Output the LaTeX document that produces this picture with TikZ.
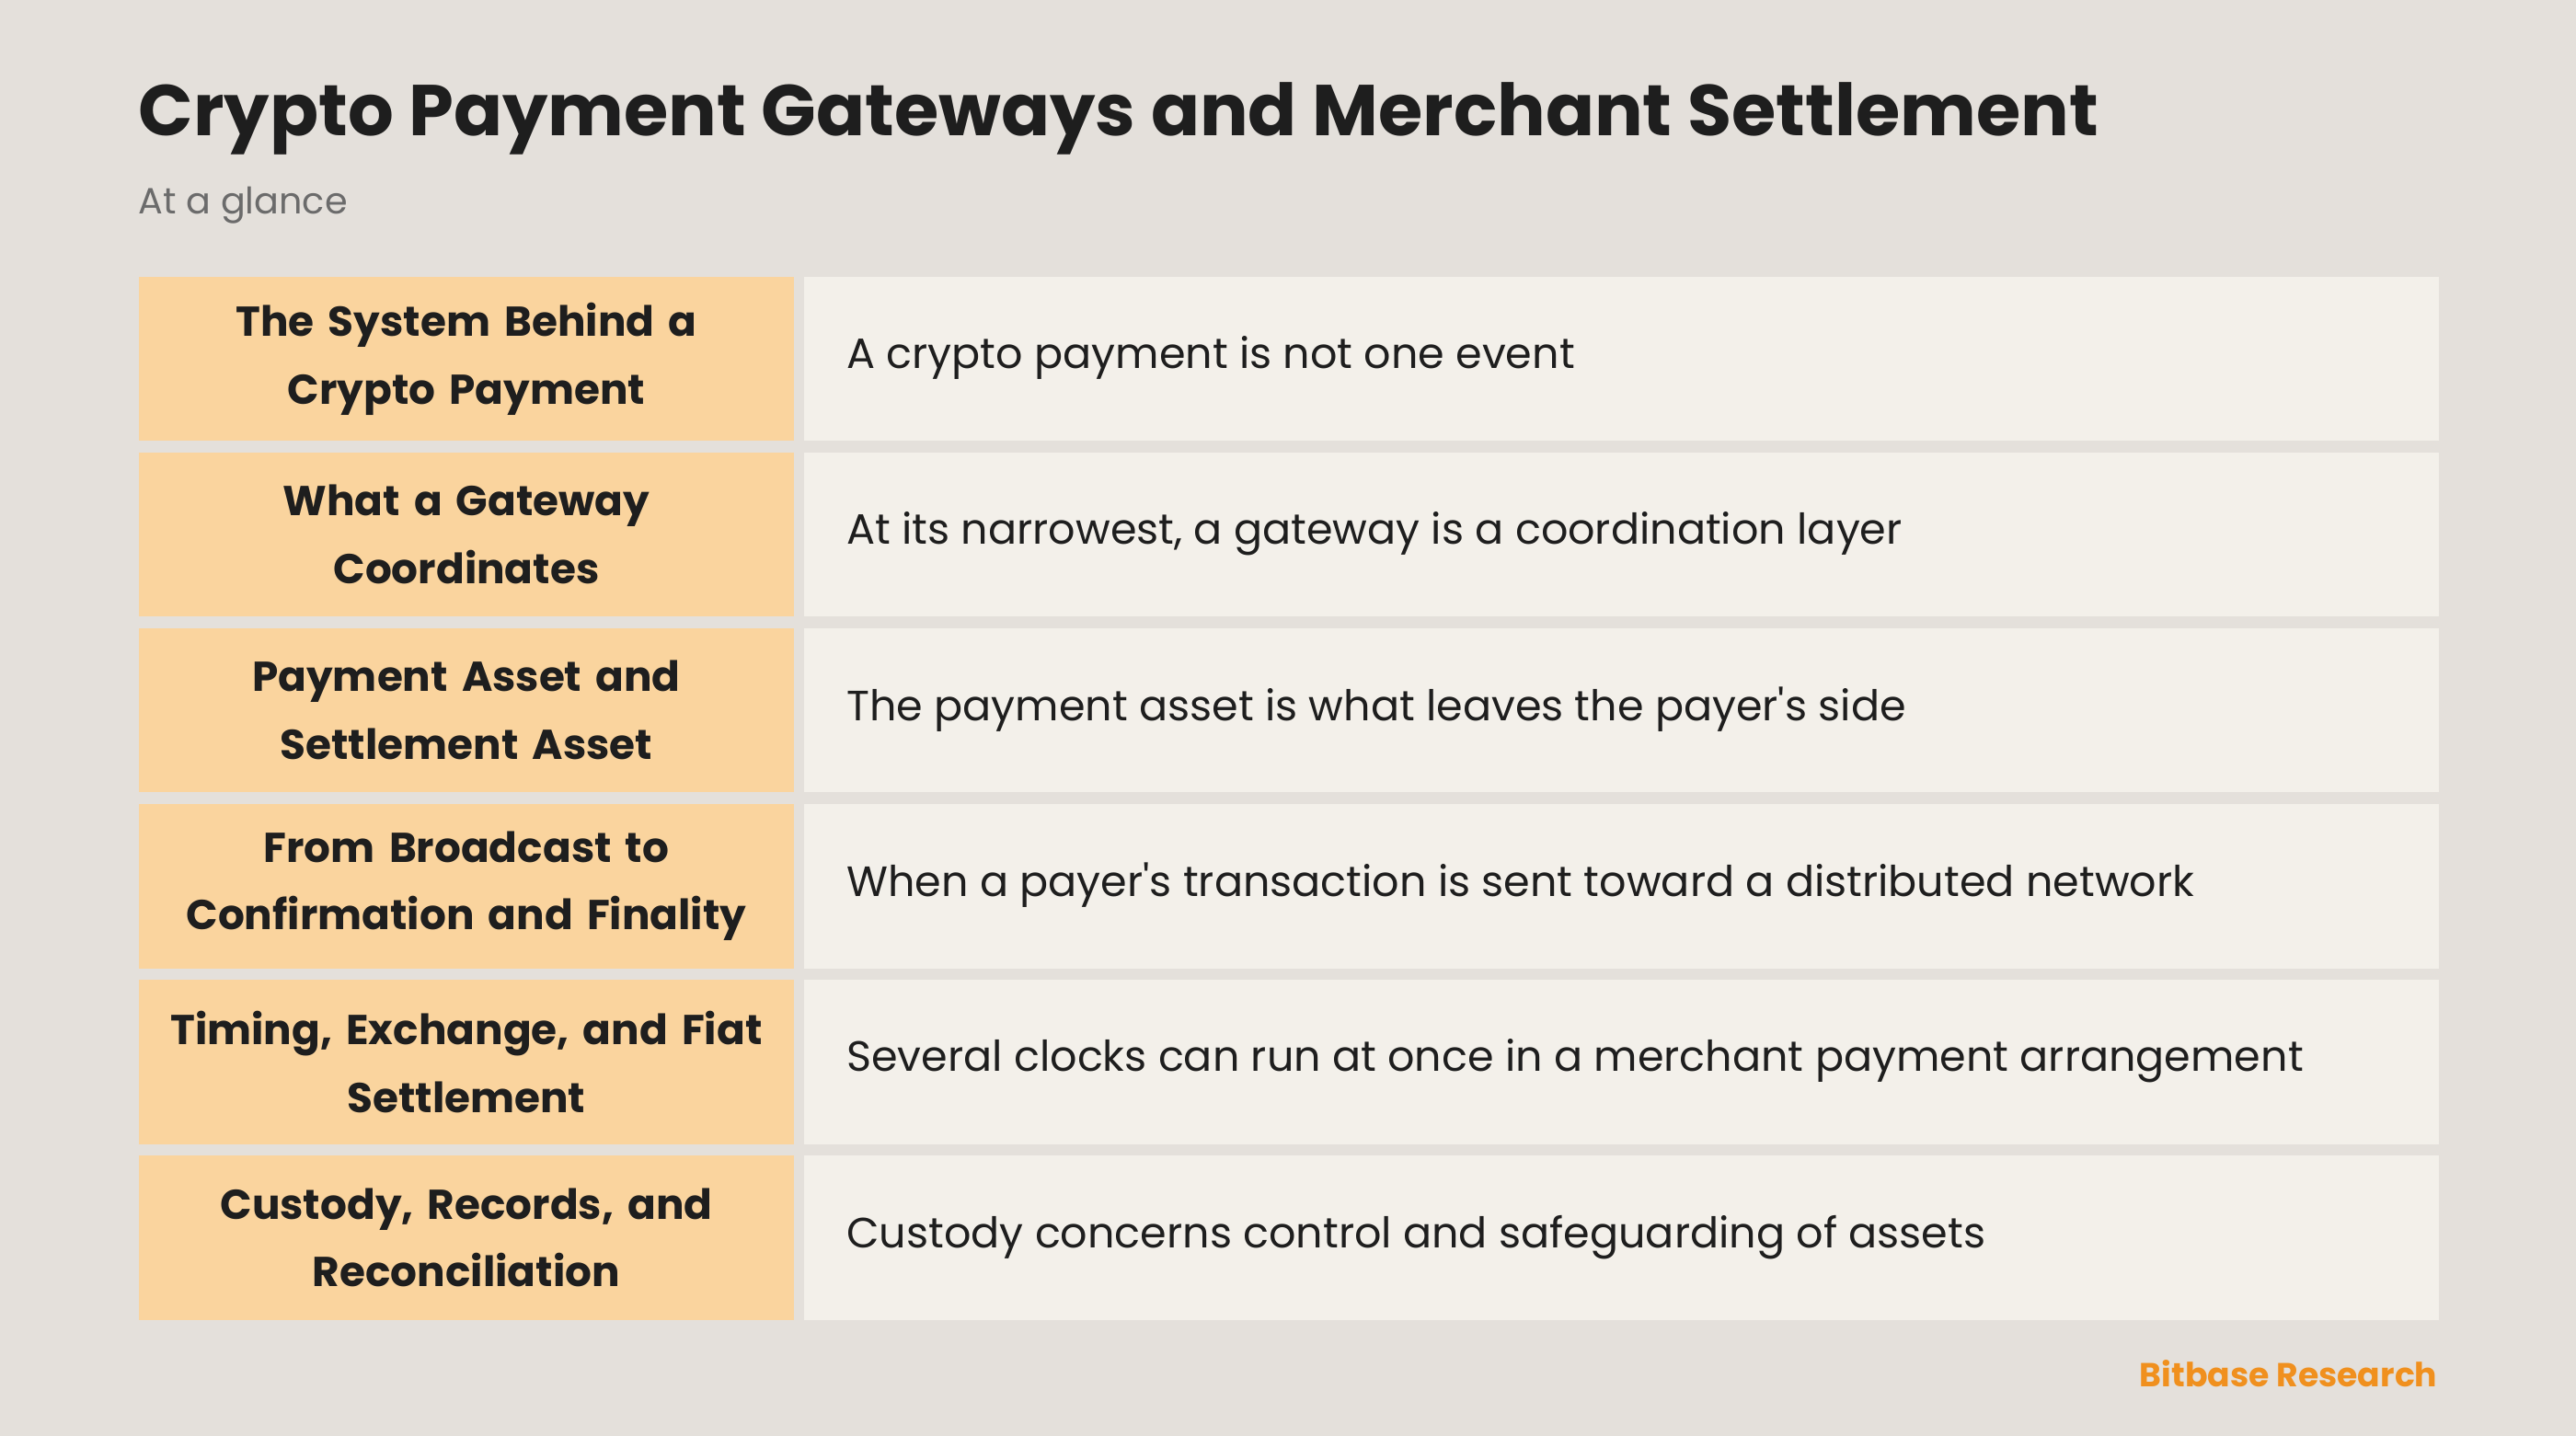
\documentclass[tikz,border=0pt]{standalone}
\usepackage{fontspec}
\setmainfont{Poppins}
\begin{document}
\begin{tikzpicture}[x=0.017857cm,y=-0.017857cm,
  lbox/.style={fill=lft,draw=none,minimum width=399\ux,minimum height=100\ux,inner sep=0pt,anchor=north west,align=center,text width=380\ux,font=\fontsize{12.9}{21}\selectfont\bfseries,text=ink},
  rbox/.style={fill=rgt,draw=none,minimum width=995\ux,minimum height=100\ux,inner sep=0pt,anchor=north west},
  rtxt/.style={anchor=west,inner sep=0pt,font=\fontsize{13.1}{16}\selectfont,text=ink}]
\def\ux{*0.017857cm}
\definecolor{bg}{HTML}{E4E0DB}
\definecolor{lft}{HTML}{FAD49E}
\definecolor{rgt}{HTML}{F3F0EA}
\definecolor{ink}{HTML}{1E1E1E}
\definecolor{sub}{HTML}{6B6B6B}
\definecolor{org}{HTML}{F0901E}
\fill[bg] (0,0) rectangle (1568,874);
\useasboundingbox (0,0) rectangle (1568,874);
\node[anchor=west,font=\fontsize{22.25}{28}\selectfont\bfseries,text=ink,inner sep=0pt] (title) at (84,72) {Crypto Payment Gateways and Merchant Settlement};
\node[anchor=west,font=\fontsize{11.3}{14}\selectfont,text=sub,inner sep=0pt] (subtitle) at (84,125) {At a glance};
\foreach \i/\y/\a/\b in {1/168/{The System Behind a\\Crypto Payment}/{A crypto payment is not one event},
  2/275/{What a Gateway\\Coordinates}/{At its narrowest, a gateway is a coordination layer},
  3/382/{Payment Asset and\\Settlement Asset}/{The payment asset is what leaves the payer\textquotesingle s side},
  4/489/{From Broadcast to\\Confirmation and Finality}/{When a payer\textquotesingle s transaction is sent toward a distributed network},
  5/596/{Timing, Exchange, and Fiat\\Settlement}/{Several clocks can run at once in a merchant payment arrangement},
  6/703/{Custody, Records, and\\Reconciliation}/{Custody concerns control and safeguarding of assets}}{
  \node[lbox] (l\i) at (84,\y) {\a};
  \node[rbox] (r\i) at (489,\y) {};
  \node[rtxt] (t\i) at (515,\y+50) {\b};
}
\node[anchor=east,font=\fontsize{10.3}{12}\selectfont\bfseries,text=org,inner sep=0pt] (foot) at (1484,836) {Bitbase Research};
\end{tikzpicture}
\end{document}
